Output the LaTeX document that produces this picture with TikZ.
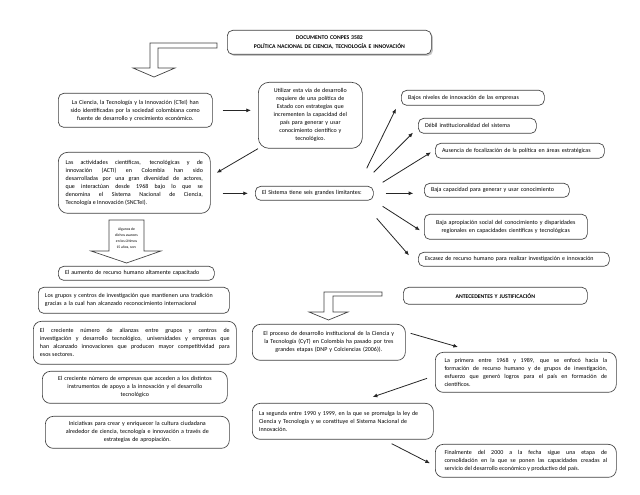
\documentclass[tikz,border=0pt]{standalone}
\usepackage{fontspec}
\setmainfont{Carlito}
\usetikzlibrary{arrows.meta, shadows}
\hyphenpenalty=10000
\exhyphenpenalty=10000

\begin{document}
\begin{tikzpicture}[
    x=0.75pt, y=-0.75pt,
    box/.style={rectangle, draw=black!75, rounded corners=4pt, anchor=north west, align=center, fill=white, line width=0.5pt, inner xsep=5pt, inner ysep=1pt, font=\fontsize{4.5}{6}\selectfont},
    head/.style={box, font=\fontsize{4.3}{6.5}\selectfont\bfseries},
    hollow/.style={draw=black!75, fill=white, line width=0.5pt, line join=miter},
    arrow/.style={-{Latex[length=3.5pt, width=3pt]}, line width=0.6pt, black!85}
]
\useasboundingbox (0,0) rectangle (640,495);

% Title and first bent arrow
\node[head, minimum width=153pt, minimum height=18pt, text width=143pt, drop shadow={shadow xshift=1.2pt, shadow yshift=-1.2pt, fill=black!45}] at (227,30) (titulo) {DOCUMENTO CONPES 3582\\ POLÍTICA NACIONAL DE CIENCIA, TECNOLOGÍA E INNOVACIÓN};
\draw[hollow] (217,43) -- (150,43) -- (150,68) -- (133,68) -- (154,77) -- (175,68) -- (158,68) -- (158,48) -- (217,48) -- cycle;

% Left column
\node[box, minimum width=115.5pt, minimum height=25.5pt, text width=105.5pt] at (58,93) (ciencia) {La Ciencia, la Tecnología y la Innovación (CTeI) han\\ sido identificadas por la sociedad colombiana como\\ fuente de desarrollo y crecimiento económico.};
\node[box, rounded corners=8pt, minimum width=78pt, minimum height=49.5pt, text width=68pt] at (258,82) (utilizar) {Utilizar esta vía de desarrollo\\ requiere de una política de\\ Estado con estrategias que\\ incrementen la capacidad del\\ país para generar y usar\\ conocimiento científico y\\ tecnológico.};
\node[box, rounded corners=7pt, align=justify, minimum width=114pt, minimum height=45.75pt, text width=103pt] at (58,152) (actividades) {Las actividades científicas, tecnológicas y de\linebreak innovación (ACTI) en Colombia han sido\linebreak desarrolladas por una gran diversidad de actores,\linebreak que interactúan desde 1968 bajo lo que se\linebreak denomina el Sistema Nacional de Ciencia,\linebreak Tecnología e Innovación (SNCTeI).};
\node[box, align=left, minimum width=88.5pt, minimum height=10.5pt, text width=78.5pt] at (255,186) (sistema) {El Sistema tiene seis grandes limitantes:};

% Limitantes
\node[box, align=left, minimum width=107.25pt, minimum height=11.25pt, text width=97.25pt] at (401,90) (bajos) {Bajos niveles de innovación de las empresas};
\node[box, align=left, minimum width=88.5pt, minimum height=11.25pt, text width=78.5pt] at (418,118) (debil) {Débil institucionalidad del sistema};
\node[box, align=left, minimum width=126.75pt, minimum height=11.25pt, text width=116.75pt] at (435,143) (ausencia) {Ausencia de focalización de la política en áreas estratégicas};
\node[box, align=left, minimum width=108.75pt, minimum height=10.5pt, text width=98.75pt] at (424,183) (bajacap) {Baja capacidad para generar y usar conocimiento};
\node[box, minimum width=122.25pt, minimum height=18.75pt, text width=112.25pt] at (424,214) (apropiacion) {Baja apropiación social del conocimiento y disparidades\\ regionales en capacidades científicas y tecnológicas};
\node[box, align=left, minimum width=143.25pt, minimum height=10.5pt, text width=133.25pt] at (418,252) (escasez) {Escasez de recurso humano para realizar investigación e innovación};

% Avances
\draw[hollow] (109,220) -- (144,220) -- (144,251) -- (161,251) -- (126.5,263) -- (91,251) -- (109,251) -- cycle;
\node[font=\fontsize{2.8}{4.5}\selectfont, align=center, inner sep=0] at (126.5,238) (avances) {Algunos de\\ dichos avances\\ en los últimos\\ 15 años, son:};
\node[box, align=left, minimum width=117pt, minimum height=10.5pt, text width=107pt] at (58,266) (aumento) {El aumento de recurso humano altamente capacitado};
\node[box, align=left, minimum width=143.25pt, minimum height=19.5pt, text width=133.25pt] at (38,287) (grupos) {Los grupos y centros de investigación que mantienen una tradición\\ gracias a la cual han alcanzado reconocimiento internacional};
\node[box, rounded corners=6pt, align=justify, minimum width=152.25pt, minimum height=32.25pt, text width=142.25pt] at (33,321) (alianzas) {El creciente número de alianzas entre grupos y centros de\linebreak investigación y desarrollo tecnológico, universidades y empresas que\linebreak han alcanzado innovaciones que producen mayor competitividad para\linebreak esos sectores.};
\node[box, rounded corners=6pt, minimum width=138.75pt, minimum height=24pt, text width=128.75pt] at (42,371) (empresas) {El creciente número de empresas que acceden a los distintos\\ instrumentos de apoyo a la innovación y el desarrollo\\ tecnológico};
\node[box, rounded corners=6pt, minimum width=138pt, minimum height=24pt, text width=128pt] at (45,416) (iniciativas) {Iniciativas para crear y enriquecer la cultura ciudadana\\ alrededor de ciencia, tecnología e innovación a través de\\ estrategias de apropiación.};

% Antecedentes
\node[head, minimum width=138pt, minimum height=12.75pt, text width=128pt] at (403,287) (antecedentes) {ANTECEDENTES Y JUSTIFICACIÓN};
\draw[hollow] (382,292) -- (324,292) -- (324,312) -- (309,312) -- (328.5,320) -- (348,312) -- (333,312) -- (333,296) -- (382,296) -- cycle;
\node[box, rounded corners=6pt, minimum width=114.75pt, minimum height=27pt, text width=104.75pt] at (252,324) (proceso) {El proceso de desarrollo institucional de la Ciencia y\\ la Tecnología (CyT) en Colombia ha pasado por tres\\ grandes etapas (DNP y Colciencias (2006)).};
\node[box, rounded corners=6pt, align=justify, minimum width=135.75pt, minimum height=30pt, text width=122pt] at (435,352) (primera) {La primera entre 1968 y 1989, que se enfocó hacia la\linebreak formación de recurso humano y de grupos de investigación,\linebreak esfuerzo que generó logros para el país en formación de\linebreak científicos.};
\node[box, rounded corners=6pt, align=left, minimum width=135.75pt, minimum height=27pt, text width=125.75pt] at (252,403) (segunda) {La segunda entre 1990 y 1999, en la que se promulga la ley de\\ Ciencia y Tecnología y se constituye el Sistema Nacional de\\ Innovación.};
\node[box, rounded corners=6pt, align=justify, minimum width=135.75pt, minimum height=24.75pt, text width=122pt] at (435,444) (finalmente) {Finalmente del 2000 a la fecha sigue una etapa de\linebreak consolidación en la que se ponen las capacidades creadas al\linebreak servicio del desarrollo económico y productivo del país.};

% Connecting arrows
\draw[arrow, shorten <=7.5pt, shorten >=5.25pt] (ciencia.east) -- (ciencia.east -| utilizar.west);
\draw[arrow] (utilizar.south west) -- ([shift={(6,-10)}]actividades.east);
\draw[arrow, shorten <=9pt, shorten >=5.25pt] (sistema.west -| actividades.east) -- (sistema.west);

\coordinate (l1) at ([shift={(-7,-25)}]sistema.east);
\coordinate (l2) at ([shift={(0,-21)}]sistema.east);
\coordinate (l3) at ([shift={(9,-11)}]sistema.east);
\coordinate (l4) at ([shift={(12,0)}]sistema.east);
\coordinate (l5) at ([shift={(9,13)}]sistema.east);
\coordinate (l6) at ([shift={(3,25)}]sistema.east);
\draw[arrow] (l1) -- ([shift={(-5,3)}]bajos.south west);
\draw[arrow] (l2) -- ([shift={(-5,-1)}]debil.south west);
\draw[arrow] (l3) -- ([shift={(-4,1.5)}]ausencia.west);
\draw[arrow, shorten >=8pt] (l4) -- (l4 -| bajacap.west);
\draw[arrow] (l5) -- ([shift={(-4,3.5)}]apropiacion.west);
\draw[arrow] (l6) -- ([shift={(-9,-4)}]escasez.west);

\draw[arrow] ([shift={(5,-9)}]proceso.east) -- ([shift={(23,-5)}]primera.north west);
\draw[arrow] ([shift={(-8,6)}]primera.west) -- ([shift={(-61,-6)}]segunda.north east);
\draw[arrow] ([shift={(-42,4)}]segunda.south east) -- ([shift={(-5,2.5)}]finalmente.west);

\end{tikzpicture}
\end{document}
